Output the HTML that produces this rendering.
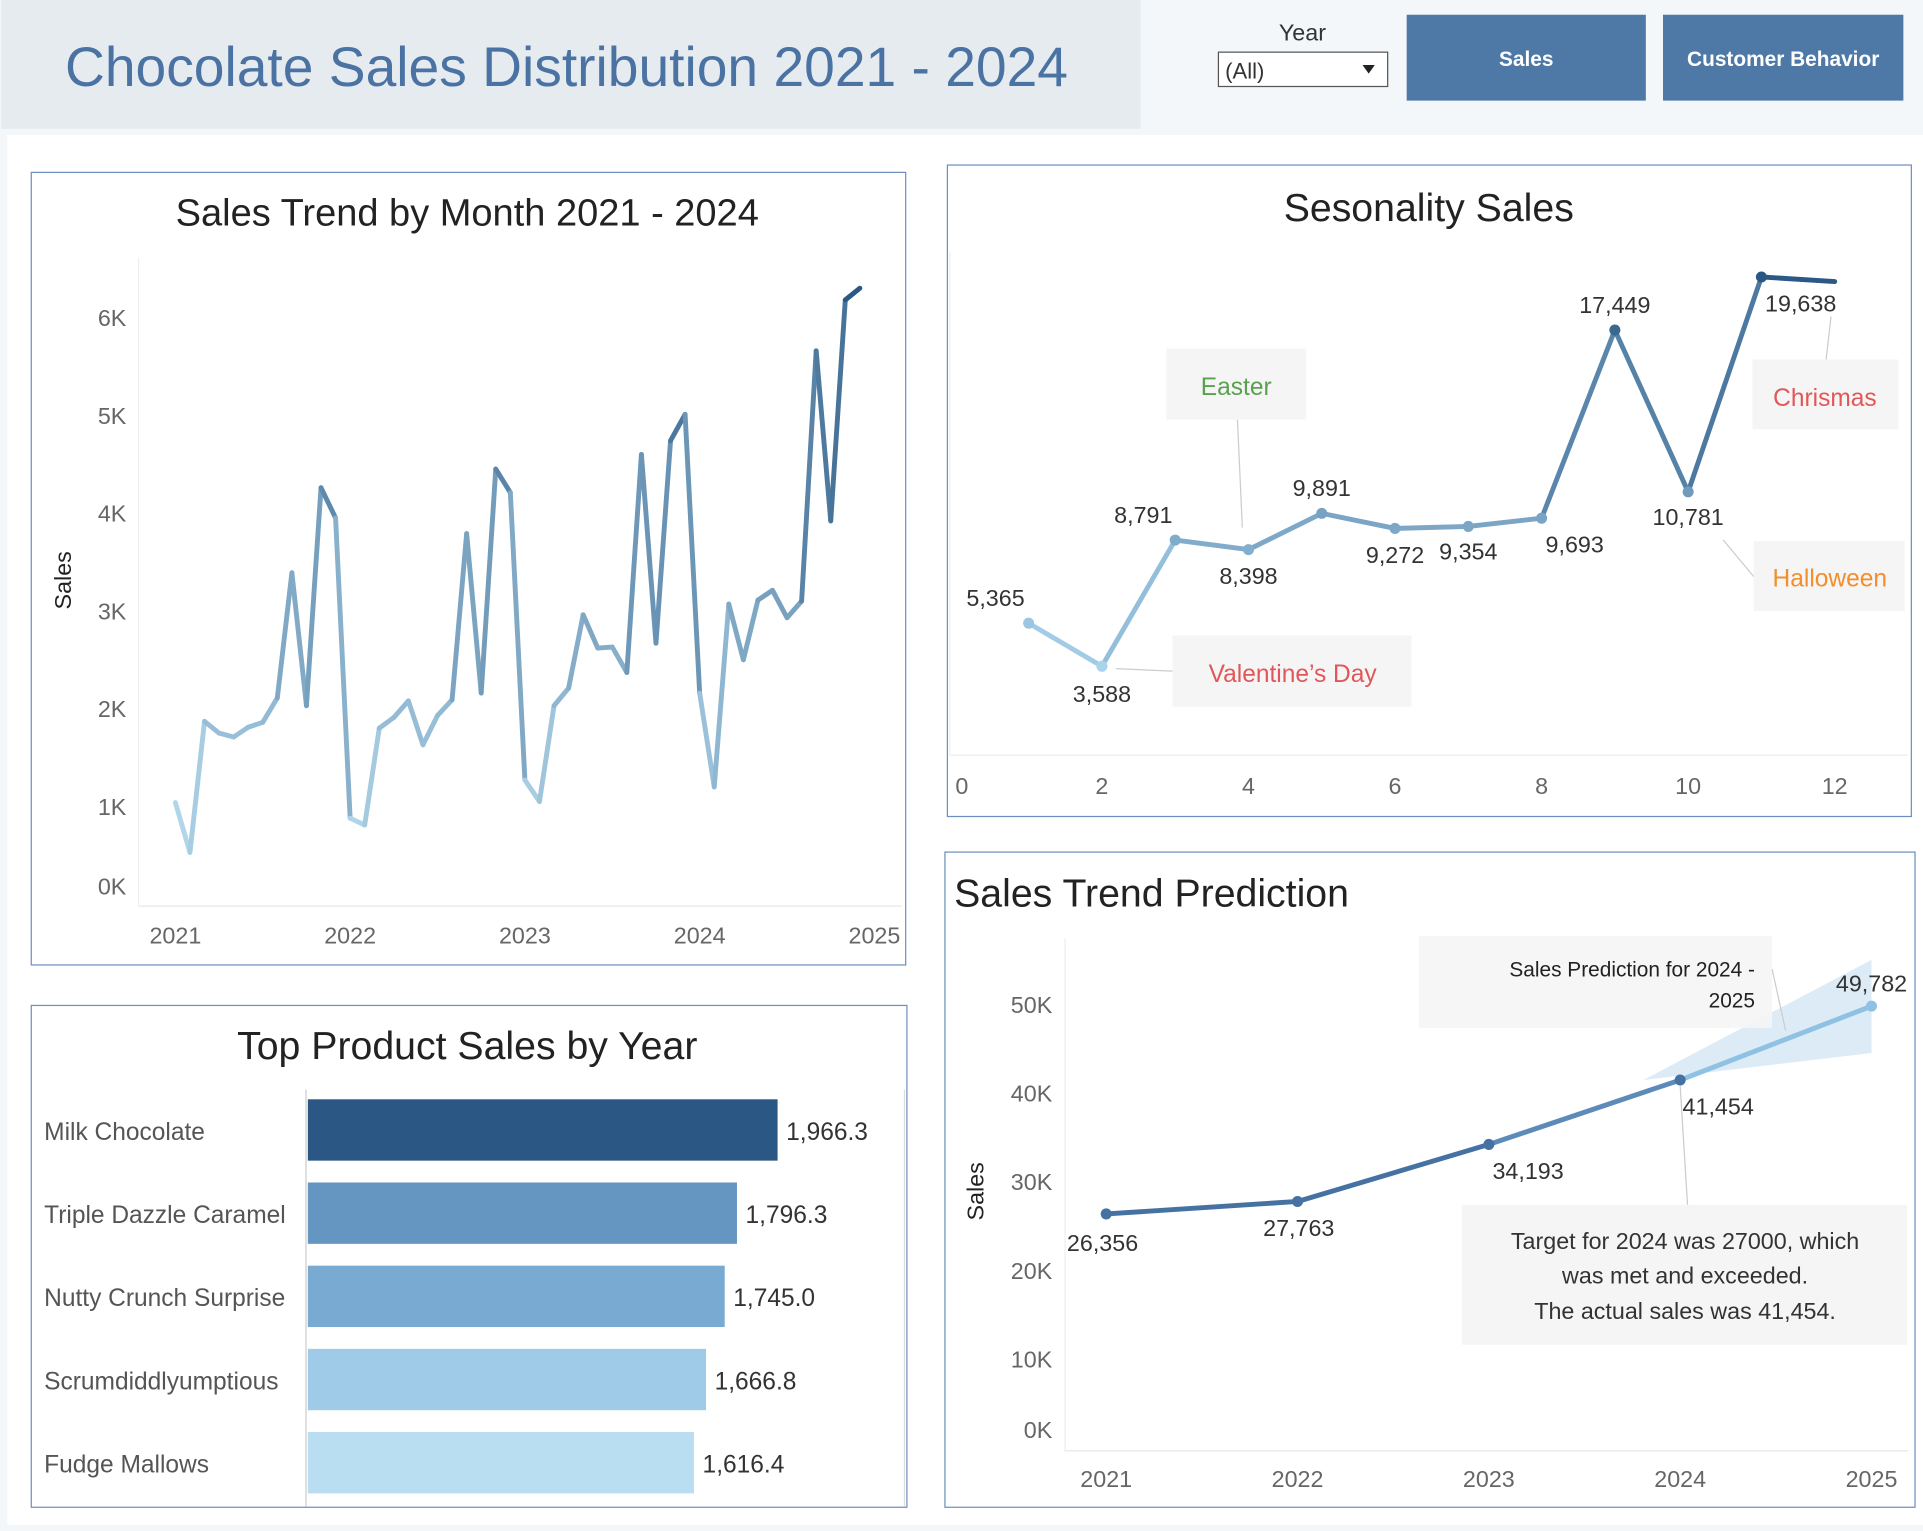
<!DOCTYPE html>
<html><head><meta charset="utf-8">
<style>
html,body{margin:0;padding:0;background:#f4f7fa;}
body{width:1923px;height:1525px;overflow:hidden;font-family:"Liberation Sans",sans-serif;}
#wrap{position:absolute;left:0;top:0;width:1568px;height:1243px;transform:scale(1.2264,1.2269);transform-origin:0 0;}
svg text{font-family:"Liberation Sans",sans-serif;}
</style></head>
<body>
<div id="wrap">
<svg id="svg" width="1568" height="1243" viewBox="0 0 1568 1243" xmlns="http://www.w3.org/2000/svg">
  <rect x="0" y="0" width="1568" height="1243" fill="#f4f7fa"/>
  <g>
    <rect x="1" y="0" width="929" height="105" fill="#e6ebf0"/>
    <text x="53" y="70" font-size="45" fill="#4a72a3">Chocolate Sales Distribution 2021 - 2024</text>
    <text x="1062" y="33" font-size="19" fill="#333" text-anchor="middle">Year</text>
    <g>
      <rect x="993.5" y="42.5" width="138" height="28" fill="#fff" stroke="#555"/>
      <text x="999" y="64" font-size="18" fill="#333">(All)</text>
      <path d="M1111 53 L1121 53 L1116 60 Z" fill="#222"/>
    </g>
    <g>
      <rect x="1147" y="12" width="195" height="70" fill="#4e79a7"/>
      <text x="1244.5" y="54" font-size="17" font-weight="bold" fill="#fff" text-anchor="middle">Sales</text>
    </g>
    <g>
      <rect x="1356" y="12" width="196" height="70" fill="#4e79a7"/>
      <text x="1454" y="54" font-size="17" font-weight="bold" fill="#fff" text-anchor="middle">Customer Behavior</text>
    </g>
  </g>
  <rect x="6" y="110" width="1562" height="1133" fill="#fff"/>
  <g id="p1">
    <rect x="25.5" y="140.5" width="713" height="646" fill="#fff" stroke="#6d8fbf"/>
    <text x="381" y="184" font-size="31" fill="#222" text-anchor="middle">Sales Trend by Month 2021 - 2024</text>
    <text transform="translate(58,473) rotate(-90)" font-size="19" fill="#222" text-anchor="middle">Sales</text>
  </g>
  <g id="p2">
    <rect x="772.5" y="134.5" width="786" height="531" fill="#fff" stroke="#6d8fbf"/>
    <text x="1165" y="180" font-size="32" fill="#222" text-anchor="middle">Sesonality Sales</text>
  </g>
  <g id="p3">
    <rect x="25.5" y="819.5" width="714" height="409" fill="#fff" stroke="#6d8fbf"/>
    <text x="381" y="863" font-size="32" fill="#222" text-anchor="middle">Top Product Sales by Year</text>
    <line x1="249.5" y1="888" x2="249.5" y2="1228" stroke="#ccc"/>
    <line x1="737.5" y1="888" x2="737.5" y2="1228" stroke="#ddd"/>
  </g>
  <g id="p4">
    <rect x="770.5" y="694.5" width="791" height="534" fill="#fff" stroke="#6d8fbf"/>
    <text x="778" y="739" font-size="32" fill="#222">Sales Trend Prediction</text>
    <text transform="translate(802,971) rotate(-90)" font-size="19" fill="#222" text-anchor="middle">Sales</text>
  </g>
</svg>
</div>
<script>
// ---------- Chart 1 data ----------
const monthlySales2021 = [1.04,0.53,1.87,1.75,1.71,1.81,1.86,2.11,3.39,2.03,4.26,3.95];
const monthlySales2022 = [0.88,0.81,1.80,1.91,2.08,1.63,1.93,2.09,3.79,2.16,4.45,4.21];
const monthlySales2023 = [1.27,1.05,2.03,2.21,2.96,2.62,2.63,2.37,4.60,2.67,4.74,5.01];
const monthlySales2024 = [2.16,1.20,3.07,2.50,3.11,3.21,2.93,3.10,5.66,3.92,6.18,6.30];
const monthlyYTicks = [0,1,2,3,4,5,6];
const monthlyYTickLabels = ["0K","1K","2K","3K","4K","5K","6K"];
const monthlyXTicks = [2021,2022,2023,2024,2025];
// ---------- Chart 2 data ----------
const seasonMonths = [1,2,3,4,5,6,7,8,9,10,11,12];
const seasonSales = [5365,3588,8791,8398,9891,9272,9354,9693,17449,10781,19638,19450];
const seasonLabels = ["5,365","3,588","8,791","8,398","9,891","9,272","9,354","9,693","17,449","10,781","19,638",""];
const seasonXTicks = [0,2,4,6,8,10,12];
// ---------- Chart 3 data ----------
const productNames = ["Milk Chocolate","Triple Dazzle Caramel","Nutty Crunch Surprise","Scrumdiddlyumptious","Fudge Mallows"];
const productSales = [1966.3,1796.3,1745.0,1666.8,1616.4];
const productLabels = ["1,966.3","1,796.3","1,745.0","1,666.8","1,616.4"];
// ---------- Chart 4 data ----------
const predYears = [2021,2022,2023,2024];
const predSales = [26356,27763,34193,41454];
const predLabels = ["26,356","27,763","34,193","41,454"];
const forecastYears = [2024,2025];
const forecastSales = [41454,49782];
const forecastUpper = [41900,55000];
const forecastLower = [41000,44500];
const predYTicks = [0,10000,20000,30000,40000,50000];
const predYTickLabels = ["0K","10K","20K","30K","40K","50K"];
const predXTicks = [2021,2022,2023,2024,2025];

const NS = "http://www.w3.org/2000/svg";
const svg = document.getElementById('svg');
function mk(tag, attrs, parent, text){
  const e = document.createElementNS(NS, tag);
  for (const k in attrs) e.setAttribute(k, attrs[k]);
  if (text !== undefined) e.textContent = text;
  (parent||svg).appendChild(e);
  return e;
}
function lerpColor(a,b,t){
  const pa=[parseInt(a.slice(1,3),16),parseInt(a.slice(3,5),16),parseInt(a.slice(5,7),16)];
  const pb=[parseInt(b.slice(1,3),16),parseInt(b.slice(3,5),16),parseInt(b.slice(5,7),16)];
  const c=pa.map((v,i)=>Math.round(v+(pb[i]-v)*t));
  return "rgb("+c.join(",")+")";
}

// ---------- Chart 1 ----------
(function(){
  const g = document.getElementById('p1');
  const x = v => 143 + (v-2021)*142.5;
  const y = v => 737 - v*79.7;
  mk('line',{x1:113,y1:210,x2:113,y2:738,stroke:'#eee'},g);
  mk('line',{x1:113,y1:738.5,x2:735,y2:738.5,stroke:'#e4e4e4'},g);
  monthlyYTicks.forEach((t,i)=>{
    let ty = y(t)+7; if (t===0) ty = 729;
    const e = mk('text',{x:103,y:ty,'font-size':19,fill:'#666','text-anchor':'end'},g,monthlyYTickLabels[i]);
    
    
  });
  monthlyXTicks.forEach(t=>{
    const e = mk('text',{x:x(t),y:769,'font-size':19,fill:'#666','text-anchor':'middle'},g,String(t));
    
    
  });
  const all = [].concat(monthlySales2021,monthlySales2022,monthlySales2023,monthlySales2024);
  const mx = Math.max(...all), mn = Math.min(...all);
  for (let i=0;i<all.length-1;i++){
    const t = ((all[i]+all[i+1])/2 - mn)/(mx-mn);
    const e = mk('line',{x1:x(2021+i/12),y1:y(all[i]),x2:x(2021+(i+1)/12),y2:y(all[i+1]),stroke:lerpColor('#b7dcef','#2a5783',t),'stroke-width':4,'stroke-linecap':'round'},g);
    
    
  }
})();

// ---------- Chart 2 ----------
(function(){
  const g = document.getElementById('p2');
  const x = v => 779 + v*59.75;
  const y = v => 614 - v*0.01977;
  mk('line',{x1:774,y1:615.5,x2:1556,y2:615.5,stroke:'#eee'},g);
  mk('line',{x1:774.5,y1:205,x2:774.5,y2:615,stroke:'#eee'},g);
  seasonXTicks.forEach(t=>{
    const e = mk('text',{x:t===0?779:x(t),y:647,'font-size':19,fill:'#666','text-anchor':t===0?'start':'middle'},g,String(t));
    
    
  });
  const ann = [
    {bx:951,by:284,bw:114,bh:58,tx:1008,ty:322,txt:"Easter",c:"#59a14f",l:[1009,342,1013,430],n:'easter-annotation'},
    {bx:956,by:518,bw:195,bh:58,tx:1054,ty:556,txt:"Valentine\u2019s Day",c:"#e15759",l:[910,545,956,547],n:'valentines-annotation'},
    {bx:1429,by:293,bw:119,bh:57,tx:1488,ty:331,txt:"Chrismas",c:"#e15759",l:[1489,293,1493,258],n:'christmas-annotation'},
    {bx:1430,by:441,bw:123,bh:57,tx:1492,ty:478,txt:"Halloween",c:"#f28e2b",l:[1405,440,1430,470],n:'halloween-annotation'}
  ];
  ann.forEach(a=>{
    const ag = mk('g',{},g);
    
    
    mk('line',{x1:a.l[0],y1:a.l[1],x2:a.l[2],y2:a.l[3],stroke:'#ccc','stroke-width':1},ag);
    mk('rect',{x:a.bx,y:a.by,width:a.bw,height:a.bh,fill:'#f5f5f5'},ag);
    mk('text',{x:a.tx,y:a.ty,'font-size':20,fill:a.c,'text-anchor':'middle'},ag,a.txt);
  });
  const mx = Math.max(...seasonSales), mn = Math.min(...seasonSales);
  for (let i=0;i<seasonSales.length-1;i++){
    const t = ((seasonSales[i]+seasonSales[i+1])/2 - mn)/(mx-mn);
    const e = mk('line',{x1:x(seasonMonths[i]),y1:y(seasonSales[i]),x2:x(seasonMonths[i+1]),y2:y(seasonSales[i+1]),stroke:lerpColor('#a9d3ec','#2a5783',t),'stroke-width':4,'stroke-linecap':'round'},g);
    
    
  }
  const offs = [[-27,-14],[0,29],[-26,-14],[0,28],[0,-14],[0,28],[0,27],[27,28],[0,-14],[0,27],[32,28],[0,0]];
  seasonSales.forEach((v,i)=>{
    const t = (v-mn)/(mx-mn);
    if (i<11){
      const d = mk('circle',{cx:x(seasonMonths[i]),cy:y(v),r:4.5,fill:lerpColor('#a9d3ec','#2a5783',t)},g);
      
      
    }
    if (seasonLabels[i]){
      const e = mk('text',{x:x(seasonMonths[i])+offs[i][0],y:y(v)+offs[i][1],'font-size':19,fill:'#333','text-anchor':'middle'},g,seasonLabels[i]);
      
      
    }
  });
})();

// ---------- Chart 3 ----------
(function(){
  const g = document.getElementById('p3');
  const x0 = 251, k = 0.1948;
  const colors = ['#2a5783','#6596c1','#78aad2','#9fcbe8','#b9ddf1'];
  productNames.forEach((n,i)=>{
    const yTop = 896 + i*67.8;
    const e = mk('rect',{x:x0,y:yTop,width:productSales[i]*k,height:50,fill:colors[i]},g);
    
    
    const l = mk('text',{x:36,y:yTop+33,'font-size':20,fill:'#555'},g,n);
    
    
    const v = mk('text',{x:x0+productSales[i]*k+7,y:yTop+33,'font-size':20,fill:'#333'},g,productLabels[i]);
    
    
  });
})();

// ---------- Chart 4 ----------
(function(){
  const g = document.getElementById('p4');
  const x = v => 902 + (v-2021)*156;
  const y = v => 1180 - v*0.00723;
  mk('line',{x1:868.5,y1:765,x2:868.5,y2:1182,stroke:'#eee'},g);
  mk('line',{x1:868,y1:1182.5,x2:1556,y2:1182.5,stroke:'#e4e4e4'},g);
  predYTicks.forEach((t,i)=>{
    const ty = t===0 ? 1172 : y(t)+7;
    const e = mk('text',{x:858,y:ty,'font-size':19,fill:'#666','text-anchor':'end'},g,predYTickLabels[i]);
    
    
  });
  predXTicks.forEach(t=>{
    const e = mk('text',{x:x(t),y:1212,'font-size':19,fill:'#666','text-anchor':'middle'},g,String(t));
    
    
  });
  const band = mk('path',{d:`M${x(forecastYears[0])-30} ${y(forecastSales[0])} L${x(forecastYears[1])} ${y(forecastUpper[1])} L${x(forecastYears[1])} ${y(forecastLower[1])} Z`,fill:'#d6e8f5',opacity:0.85},g);
  
  
  const a1 = mk('g',{},g);
  
  
  mk('rect',{x:1157,y:763,width:288,height:75,fill:'#f5f5f5',opacity:0.9},a1);
  mk('line',{x1:1445,y1:790,x2:1456,y2:840,stroke:'#ccc'},a1);
  mk('text',{x:1431,y:796,'font-size':17,fill:'#222','text-anchor':'end'},a1,'Sales Prediction for 2024 -');
  mk('text',{x:1431,y:821,'font-size':17,fill:'#222','text-anchor':'end'},a1,'2025');
  const f = mk('line',{x1:x(forecastYears[0]),y1:y(forecastSales[0]),x2:x(forecastYears[1]),y2:y(forecastSales[1]),stroke:'#8ec1e2','stroke-width':4,'stroke-linecap':'round'},g);
  
  
  const fd = mk('circle',{cx:x(forecastYears[1]),cy:y(forecastSales[1]),r:4.5,fill:'#8ec1e2'},g);
  
  
  const fl = mk('text',{x:x(forecastYears[1]),y:y(forecastSales[1])-12,'font-size':19,fill:'#333','text-anchor':'middle'},g,'49,782');
  
  
  for (let i=0;i<predSales.length-1;i++){
    const e = mk('line',{x1:x(predYears[i]),y1:y(predSales[i]),x2:x(predYears[i+1]),y2:y(predSales[i+1]),stroke:i<2?'#4572a2':'#5d8bb9','stroke-width':4,'stroke-linecap':'round'},g);
    
    
  }
  const offs=[[-3,30],[1,28],[32,28],[31,28]];
  predSales.forEach((v,i)=>{
    const d = mk('circle',{cx:x(predYears[i]),cy:y(v),r:4.5,fill:'#4572a2'},g);
    
    
    const t = mk('text',{x:x(predYears[i])+offs[i][0],y:y(v)+offs[i][1],'font-size':19,fill:'#333','text-anchor':'middle'},g,predLabels[i]);
    
    
  });
  const a2 = mk('g',{},g);
  
  
  mk('line',{x1:1370,y1:885,x2:1376,y2:982,stroke:'#ccc'},a2);
  mk('rect',{x:1192,y:982,width:363,height:114,fill:'#f5f5f5'},a2);
  mk('text',{x:1374,y:1018,'font-size':19,fill:'#333','text-anchor':'middle'},a2,'Target for 2024 was 27000, which');
  mk('text',{x:1374,y:1046,'font-size':19,fill:'#333','text-anchor':'middle'},a2,'was met and exceeded.');
  mk('text',{x:1374,y:1075,'font-size':19,fill:'#333','text-anchor':'middle'},a2,'The actual sales was 41,454.');
})();
</script>
</body></html>
